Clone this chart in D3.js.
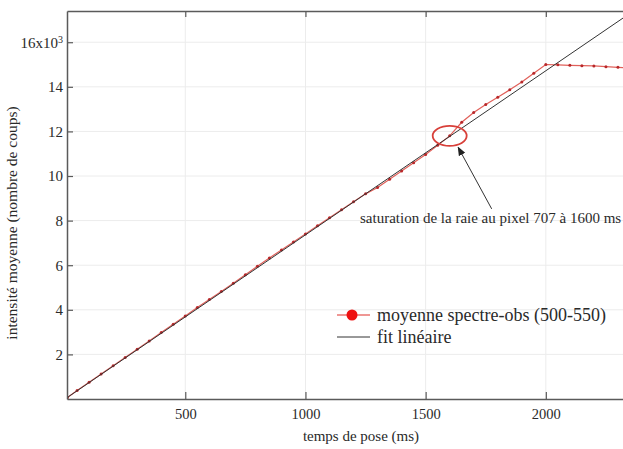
<!DOCTYPE html>
<html>
<head>
<meta charset="utf-8">
<script src="https://cdn.jsdelivr.net/npm/d3@7"></script>
<style>
  html, body { margin: 0; padding: 0; background: #fff; }
  svg { display: block; font-family: "Liberation Serif", "Times New Roman", serif; }
</style>
</head>
<body>
<svg id="chart" width="623" height="449"></svg>
<script>
// Exposure time (ms) and mean counts of the observed spectrum, pixels 500-550
const exposureMs = [10, 50, 100, 150, 200, 250, 300, 350, 400, 450, 500, 550, 600, 650, 700,
  750, 800, 850, 900, 950, 1000, 1050, 1100, 1150, 1200, 1250, 1300, 1350, 1400, 1450, 1500,
  1550, 1600, 1650, 1700, 1750, 1800, 1850, 1900, 1950, 2000, 2050, 2100, 2150, 2200, 2250,
  2300, 2350];
const meanCounts = [70, 380, 750, 1120, 1490, 1860, 2230, 2600, 2980, 3350, 3720, 4100, 4465,
  4825, 5195, 5570, 5950, 6325, 6680, 7040, 7405, 7770, 8130, 8490, 8850, 9200, 9480, 9850,
  10220, 10590, 10965, 11380, 11800, 12410, 12845, 13205, 13530, 13865, 14220, 14605, 15000,
  14985, 14965, 14950, 14935, 14905, 14875, 14850];

// Linear fit of the unsaturated part: counts = slope * t + intercept
const fitSlope = 7.36;
const fitIntercept = 0;

// Axis ticks
const xTicks = [500, 1000, 1500, 2000];
const yTicks = [2000, 4000, 6000, 8000, 10000, 12000, 14000, 16000];
const yTickLabels = ["2", "4", "6", "8", "10", "12", "14", "16x10"];

// Saturation annotation
const satTime = 1600;
const satCounts = 11800;
const satText = "saturation de la raie au pixel 707 à 1600 ms";

const legendLabels = ["moyenne spectre-obs (500-550)", "fit linéaire"];

const svg = d3.select("#chart");
const mLeft = 67, mRight = 654, mTop = 11, mBottom = 399;

const x = d3.scaleLinear().domain([8, 2450]).range([mLeft, mRight]);
const y = d3.scaleLinear().domain([0, 17400]).range([mBottom, mTop]);

const axisColor = "#5a5a5a";
const textColor = "#2a2a2a";

// Grid
const grid = svg.append("g");
grid.selectAll("line.gx").data(xTicks).join("line")
  .attr("x1", d => x(d)).attr("x2", d => x(d))
  .attr("y1", mTop).attr("y2", mBottom)
  .attr("stroke", "#ececec").attr("stroke-width", 1);
grid.selectAll("line.gy").data(yTicks).join("line")
  .attr("x1", mLeft).attr("x2", mRight)
  .attr("y1", d => y(d)).attr("y2", d => y(d))
  .attr("stroke", "#ececec").attr("stroke-width", 1);

// Fit line
const fitData = x.domain().map(t => [t, fitSlope * t + fitIntercept]);
const line = d3.line().x(d => x(d[0])).y(d => y(d[1]));

svg.append("clipPath").attr("id", "plotclip")
  .append("rect").attr("x", mLeft).attr("y", mTop)
  .attr("width", mRight - mLeft).attr("height", mBottom - mTop);

const plot = svg.append("g").attr("clip-path", "url(#plotclip)");

// Measured series
const series = exposureMs.map((t, i) => [t, meanCounts[i]]);
plot.append("path").datum(series)
  .attr("d", line).attr("fill", "none")
  .attr("stroke", "#e0605a").attr("stroke-width", 1.2);
plot.selectAll("circle.pt").data(series).join("circle")
  .attr("cx", d => x(d[0])).attr("cy", d => y(d[1]))
  .attr("r", 1.5).attr("fill", "#b8282a");

plot.append("path").datum(fitData)
  .attr("d", line).attr("fill", "none")
  .attr("stroke", "#333").attr("stroke-width", 1);

// Axes
const yAxis = d3.axisLeft(y).tickValues(yTicks).tickSizeInner(-6).tickSizeOuter(0).tickPadding(4)
  .tickFormat((d, i) => yTickLabels[i]);
const gy = svg.append("g").attr("transform", `translate(${mLeft},0)`).call(yAxis);
gy.select(".domain").attr("stroke", axisColor).attr("stroke-width", 1.5);
gy.selectAll(".tick line").attr("stroke", axisColor).attr("stroke-width", 1.2);
gy.selectAll(".tick text").attr("font-size", 15).attr("fill", textColor)
  .attr("font-family", "Liberation Serif");
gy.selectAll(".tick").filter(d => d === 16000).select("text")
  .append("tspan").attr("dy", "-0.45em").attr("font-size", 10).text("3");

const xAxis = d3.axisBottom(x).tickValues(xTicks).tickSizeInner(-7).tickSizeOuter(0).tickPadding(10)
  .tickFormat(d3.format("d"));
const gx = svg.append("g").attr("transform", `translate(0,${mBottom})`).call(xAxis);
gx.select(".domain").attr("stroke", axisColor).attr("stroke-width", 1.5);
gx.selectAll(".tick line").attr("stroke", axisColor).attr("stroke-width", 1.2);
gx.selectAll(".tick text").attr("font-size", 14.5).attr("fill", textColor)
  .attr("font-family", "Liberation Serif");

const xTop = d3.axisTop(x).tickValues(xTicks).tickSizeInner(-6).tickSizeOuter(0).tickFormat("");
const gt = svg.append("g").attr("transform", `translate(0,${mTop})`).call(xTop);
gt.select(".domain").attr("stroke", axisColor).attr("stroke-width", 1.5);
gt.selectAll(".tick line").attr("stroke", axisColor).attr("stroke-width", 1.2);

// Axis titles
svg.append("text")
  .attr("x", 361).attr("y", 441)
  .attr("text-anchor", "middle").attr("font-size", 15).attr("fill", textColor)
  .text("temps de pose (ms)");
svg.append("text")
  .attr("transform", "translate(17,223) rotate(-90)")
  .attr("text-anchor", "middle").attr("font-size", 15.5).attr("fill", textColor)
  .text("intensité moyenne (nombre de coups)");

// Saturation annotation: ellipse around the point and an arrow from the label
svg.append("ellipse")
  .attr("cx", x(satTime)).attr("cy", y(satCounts))
  .attr("rx", 17).attr("ry", 10)
  .attr("fill", "none").attr("stroke", "#d8403a").attr("stroke-width", 1.8);

svg.append("defs").append("marker")
  .attr("id", "arrowhead").attr("viewBox", "0 0 10 10")
  .attr("refX", 9).attr("refY", 5).attr("markerWidth", 9).attr("markerHeight", 9)
  .attr("orient", "auto").attr("markerUnits", "userSpaceOnUse")
  .append("path").attr("d", "M0,1 L10,5 L0,9 Z").attr("fill", "#222");

const ax0 = x(satTime) + 42, ay0 = y(satCounts) + 73;
const ax1 = x(satTime) + 8.5, ay1 = y(satCounts) + 11.5;
svg.append("line")
  .attr("x1", ax0).attr("y1", ay0).attr("x2", ax1).attr("y2", ay1)
  .attr("stroke", "#333").attr("stroke-width", 1)
  .attr("marker-end", "url(#arrowhead)");

svg.append("text")
  .attr("x", 360).attr("y", 223)
  .attr("font-size", 15).attr("fill", textColor)
  .text(satText);

// Legend
const lg = svg.append("g");
lg.append("line").attr("x1", 337).attr("x2", 370).attr("y1", 315).attr("y2", 315)
  .attr("stroke", "#e0302a").attr("stroke-width", 1.2);
lg.append("circle").attr("cx", 352).attr("cy", 315).attr("r", 5.5).attr("fill", "#ee1111");
lg.append("line").attr("x1", 337).attr("x2", 370).attr("y1", 337).attr("y2", 337)
  .attr("stroke", "#333").attr("stroke-width", 1);
lg.selectAll("text").data(legendLabels).join("text")
  .attr("x", 377).attr("y", (d, i) => 321 + i * 22)
  .attr("font-size", 18).attr("fill", textColor)
  .text(d => d);
</script>
</body>
</html>
